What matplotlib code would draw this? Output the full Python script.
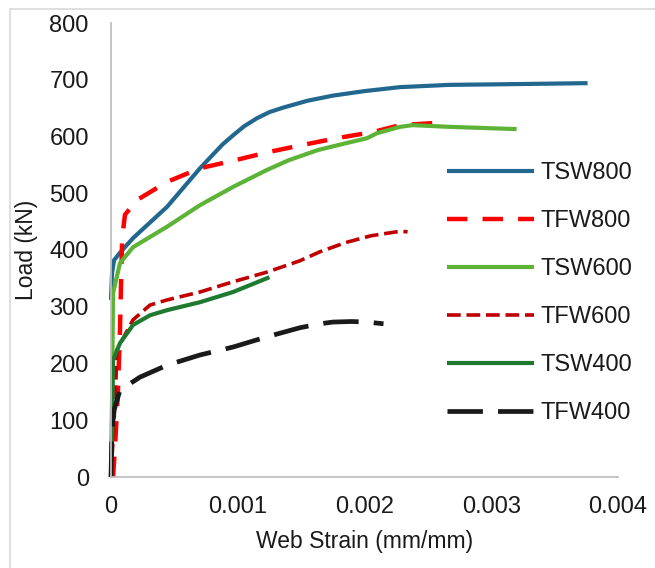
import matplotlib
matplotlib.use("Agg")
import matplotlib.pyplot as plt
from matplotlib.patches import Rectangle

plt.rcParams['font.family'] = ['Liberation Sans', 'DejaVu Sans']

# ---- data (web strain mm/mm, load kN) ----
tsw800_x = [0, 0.000008, 0.000024, 0.00007, 0.000174, 0.000442, 0.000702, 0.00088, 0.000963,
            0.00105, 0.00115, 0.00125, 0.00136, 0.00155, 0.00175, 0.002, 0.00228, 0.00267,
            0.00307, 0.00376]
tsw800_y = [312, 359, 382, 395, 421, 476, 544, 586, 602, 618, 632, 643, 651, 663, 672, 680,
            687, 691, 692, 694]

tfw800_x = [0.000016, 0.000032, 0.000055, 0.000071, 0.000079, 0.000088, 0.00011, 0.000205,
            0.000442, 0.000702, 0.000994, 0.00125, 0.00151, 0.00178, 0.00207, 0.00228, 0.00257]
tfw800_y = [0, 53, 153, 259, 340, 420, 462, 488, 520, 544, 559, 573, 585, 597, 608, 620, 624]

tsw600_x = [0, 0.000008, 0.000016, 0.000071, 0.000174, 0.000442, 0.000702, 0.00097, 0.00123,
            0.0014, 0.00163, 0.00185, 0.00202, 0.0021, 0.00228, 0.00238, 0.00267, 0.0032]
tsw600_y = [0, 136, 324, 377, 405, 441, 479, 512, 541, 558, 576, 588, 597, 606, 617, 620,
            617, 613]

tfw600_x = [0, 0.000024, 0.000039, 0.000047, 0.000174, 0.000308, 0.000442, 0.000702,
            0.000963, 0.00123, 0.00149, 0.00165, 0.00185, 0.00205, 0.00228, 0.00234]
tfw600_y = [0, 100, 171, 224, 277, 303, 312, 326, 344, 361, 381, 397, 413, 425, 433, 432]

tsw400_x = [0, 0.000008, 0.000016, 0.000071, 0.000174, 0.000308, 0.000442, 0.000702,
            0.000963, 0.00125]
tsw400_y = [0, 70, 206, 236, 268, 285, 294, 308, 326, 352]

tfw400_x = [0, 0.000008, 0.000024, 0.000071, 0.000229, 0.000442, 0.000702, 0.000963,
            0.00123, 0.00149, 0.00165, 0.00175, 0.0019, 0.00202, 0.00215]
tfw400_y = [0, 83, 118, 153, 176, 197, 215, 229, 247, 263, 270, 273, 274, 273, 270]

labels = ['TSW800', 'TFW800', 'TSW600', 'TFW600', 'TSW400', 'TFW400']
x_ticks = [0, 0.001, 0.002, 0.003, 0.004]
x_tick_labels = ['0', '0.001', '0.002', '0.003', '0.004']
y_ticks = [0, 100, 200, 300, 400, 500, 600, 700, 800]

W, H = 655, 568
fig = plt.figure(figsize=(W / 100, H / 100), dpi=100)
ax = fig.add_axes([111 / W, 1 - 477 / H, (618 - 111) / W, (477 - 23) / H])

# outer light frame
fig.patches.append(Rectangle((9.5 / W, -0.1), 1.2, (H - 9.5) / H + 0.1,
                             transform=fig.transFigure, fill=False,
                             edgecolor='#d9d9d9', linewidth=1.2))

common = dict(clip_on=False, solid_capstyle='butt', solid_joinstyle='round',
              dash_capstyle='butt', dash_joinstyle='round')
series = [
    (tsw800_x, tsw800_y, dict(color='#22688e', lw=3.0, ls='-')),
    (tfw800_x, tfw800_y, dict(color='#ff0000', lw=3.2, ls=(0, (4.6, 3.4)))),
    (tsw600_x, tsw600_y, dict(color='#5cb336', lw=3.0, ls='-')),
    (tfw600_x, tfw600_y, dict(color='#c00000', lw=2.6, ls=(0, (3.8, 1.6)))),
    (tsw400_x, tsw400_y, dict(color='#1f7a30', lw=3.0, ls='-')),
    (tfw400_x, tfw400_y, dict(color='#1a1a1a', lw=3.4, ls=(0, (7.5, 3.2)))),
]
for (xs, ys, st), lab in zip(series, labels):
    ax.plot(xs, ys, label=lab, **st, **common)

ax.set_xlim(0, 0.004)
ax.set_ylim(0, 800)
ax.set_xticks(x_ticks)
ax.set_xticklabels(x_tick_labels)
ax.set_yticks(y_ticks)
for s in ['top', 'right']:
    ax.spines[s].set_visible(False)
for s in ['left', 'bottom']:
    ax.spines[s].set_color('#bfbfbf')
    ax.spines[s].set_linewidth(1.3)
ax.tick_params(axis='both', length=0, labelsize=17, colors='#1a1a1a')
ax.tick_params(axis='x', pad=14)
ax.tick_params(axis='y', pad=16)

ax.set_xlabel('Web Strain (mm/mm)', fontsize=16.5, color='#1a1a1a', labelpad=8)
ax.set_ylabel('Load (kN)', fontsize=16.5, color='#1a1a1a', labelpad=8)

leg = fig.legend(loc='upper left', bbox_to_anchor=(447 / W, 1 - 162 / H),
                 bbox_transform=fig.transFigure, frameon=False, fontsize=17,
                 handlelength=3.7, handletextpad=0.25, labelspacing=1.1,
                 borderpad=0, borderaxespad=0)
for t in leg.get_texts():
    t.set_color('#1a1a1a')

fig.savefig('out.png', dpi=100)
